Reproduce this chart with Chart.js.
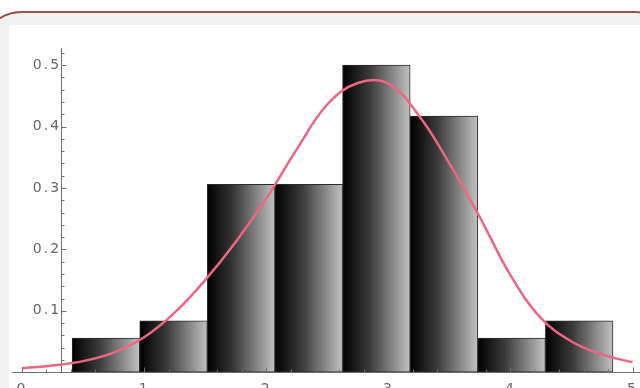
<!DOCTYPE html>
<html>
<head>
<meta charset="utf-8">
<script src="https://cdn.jsdelivr.net/npm/chart.js@4/dist/chart.umd.min.js"></script>
<style>
  html, body { margin:0; padding:0; background:#ffffff; width:640px; height:388px; overflow:hidden; }
  #frame { position:absolute; left:-21px; top:11px; width:700px; height:430px; box-sizing:border-box;
           border:2px solid #9a5444; border-radius:43px; background:#f2f2f2; }
  #panel { position:absolute; left:9px; top:25px; width:631px; height:363px; background:#ffffff; }
  #c { position:absolute; left:0; top:0; }
</style>
</head>
<body>
<div id="frame"></div>
<div id="panel"></div>
<canvas id="c" width="646" height="407"></canvas>
<script>
// ---- data ----
const binEdges   = [0.41, 0.964, 1.518, 2.071, 2.625, 3.179, 3.733, 4.286, 4.84];
const binHeights = [0.0556, 0.0835, 0.306, 0.306, 0.50, 0.417, 0.0556, 0.0835];
const curveX = [0, 0.25, 0.5, 0.75, 1.0, 1.25, 1.5, 1.75, 2.0, 2.25, 2.5, 2.75, 3.0, 3.25, 3.5, 3.75, 4.0, 4.25, 4.5, 4.75, 5.0];
const curveY = [0.0065, 0.011, 0.018, 0.032, 0.057, 0.097, 0.150, 0.212, 0.283, 0.363, 0.436, 0.471, 0.470, 0.418, 0.340, 0.252, 0.158, 0.088, 0.050, 0.029, 0.016];
const xTicks = [0, 1, 2, 3, 4, 5];
const yTicks = [0.1, 0.2, 0.3, 0.4, 0.5];
const yAxisAt = 0.32;
const xMinorStep = 0.2, yMinorStep = 0.02;

const barData = binHeights.map((h, i) => ({ x: (binEdges[i] + binEdges[i + 1]) / 2, y: h }));
const curveData = curveX.map((x, i) => ({ x: x, y: curveY[i] }));

const axisColor = '#707070';

const tickMarks = {
  id: 'tickMarks',
  beforeDraw(chart) { chart.ctx.letterSpacing = '2px'; },
  afterDatasetsDraw(chart) {
    const { ctx, scales: { x, y } } = chart;
    ctx.save();
    ctx.strokeStyle = axisColor;
    ctx.lineWidth = 1;
    const ax = Math.round(x.getPixelForValue(yAxisAt)) + 0.5;
    const ay = Math.round(y.getPixelForValue(0)) + 0.5;
    ctx.beginPath();
    const nY = Math.floor(y.max / yMinorStep + 1e-6);
    for (let k = 1; k <= nY; k++) {
      const v = k * yMinorStep;
      const major = k % 5 === 0;
      const py = Math.round(y.getPixelForValue(v)) + 0.5;
      ctx.moveTo(ax, py); ctx.lineTo(ax + (major ? 5 : 3), py);
    }
    const nX = Math.floor(x.max / xMinorStep + 1e-6);
    for (let k = 0; k <= nX; k++) {
      const v = k * xMinorStep;
      const major = k % 5 === 0;
      const px = Math.round(x.getPixelForValue(v)) + 0.5;
      ctx.moveTo(px, ay); ctx.lineTo(px, ay - (major ? 5 : 3));
    }
    ctx.stroke();
    ctx.restore();
  },
  afterDraw(chart) { chart.ctx.letterSpacing = '0px'; }
};

function barGradient(c) {
  const chart = c.chart;
  const xs = chart.scales && chart.scales.x;
  if (!xs || c.dataIndex === undefined) return '#555';
  const x0 = xs.getPixelForValue(binEdges[c.dataIndex]);
  const x1 = xs.getPixelForValue(binEdges[c.dataIndex + 1]);
  if (!isFinite(x0) || !isFinite(x1) || x1 === x0) return '#555';
  const g = chart.ctx.createLinearGradient(x0, 0, x1, 0);
  g.addColorStop(0, '#000000');
  g.addColorStop(0.4, '#3a3a3a');
  g.addColorStop(1, '#c2c2c2');
  return g;
}

new Chart(document.getElementById('c'), {
  type: 'bar',
  data: {
    datasets: [
      {
        type: 'line', data: curveData, order: 0,
        borderColor: '#ee6680', borderWidth: 2.5, pointRadius: 0,
        tension: 0.4, fill: false
      },
      {
        type: 'bar', data: barData, order: 1,
        backgroundColor: barGradient, borderColor: '#2a2a2a', borderWidth: 1,
        barPercentage: 1, categoryPercentage: 1, borderSkipped: false
      }
    ]
  },
  options: {
    responsive: false, animation: false, devicePixelRatio: 1,
    layout: { padding: { left: 12, right: 0, top: 48, bottom: 0 } },
    plugins: { legend: { display: false }, tooltip: { enabled: false } },
    scales: {
      x: {
        type: 'linear', min: -0.082, max: 5.066, offset: false,
        grid: { display: true, drawOnChartArea: false, drawTicks: false, offset: false },
        border: { display: true, color: axisColor, width: 1 },
        afterBuildTicks: (axis) => { axis.ticks = xTicks.map(v => ({ value: v })); },
        ticks: { padding: 9, color: '#666', font: { family: 'DejaVu Sans', size: 14 },
                 callback: (v) => String(v), maxRotation: 0, autoSkip: false }
      },
      y: {
        type: 'linear', min: 0, max: 0.528, position: { x: yAxisAt },
        grid: { display: true, drawOnChartArea: false, drawTicks: false },
        border: { display: true, color: axisColor, width: 1 },
        afterBuildTicks: (axis) => { axis.ticks = yTicks.map(v => ({ value: v })); },
        ticks: { padding: 6, color: '#666', font: { family: 'DejaVu Sans', size: 14 },
                 callback: (v) => v.toFixed(1), autoSkip: false }
      }
    }
  },
  plugins: [tickMarks]
});
</script>
</body>
</html>
